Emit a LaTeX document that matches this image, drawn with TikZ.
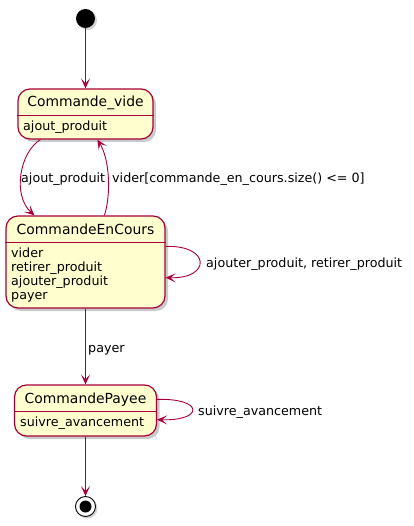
\documentclass[tikz,border=0pt]{standalone}
\usepackage{fontspec}
\setmainfont{DejaVu Sans}
\usetikzlibrary{arrows.meta,shadows}
\definecolor{umlred}{HTML}{A80036}
\definecolor{umlfill}{HTML}{FEFECE}
\tikzset{
  statebox/.style={draw=umlred, fill=umlfill, line width=1.2pt, rounded corners=12pt,
    inner sep=0pt, drop shadow={shadow xshift=3pt, shadow yshift=-3pt, opacity=0.35, fill=black!60}},
  divline/.style={draw=umlred, line width=1pt},
  arr/.style={draw=umlred, line width=0.9pt, -{Stealth[length=10pt,width=9pt,inset=5pt]}},
  ttl/.style={font=\fontsize{13.9}{16}\selectfont, anchor=base, inner sep=0pt},
  body/.style={font=\fontsize{12.7}{14}\selectfont, anchor=base west, inner sep=0pt},
  lbl/.style={font=\fontsize{12.7}{14}\selectfont, anchor=base west, inner sep=0pt},
}
\begin{document}
\begin{tikzpicture}[x=1pt,y=-1pt]
\useasboundingbox (0,0) rectangle (413,526);
% initial
\node[circle, fill=black, minimum size=19pt, inner sep=0pt, drop shadow={shadow xshift=2pt, shadow yshift=-2pt, opacity=0.35}] (init) at (85.5,18.5) {};
% Commande_vide
\node[statebox, minimum width=135pt, minimum height=50pt] (cv) at (85.5,114) {};
\draw[divline] (cv.west |- 0,116) coordinate (cvl) -- (cv.east |- 0,116) coordinate (cvr);
\node[ttl] (cvt) at (85.5,107) {Commande\_vide};
\node[body] (cvb) at (23,131) {ajout\_produit};
% CommandeEnCours
\node[statebox, minimum width=159pt, minimum height=92pt] (cec) at (85.5,262) {};
\draw[divline] (cec.west |- 0,242) coordinate (cecl) -- (cec.east |- 0,242) coordinate (cecr);
\node[ttl] (cect) at (85.5,234) {CommandeEnCours};
\node[body] (ceb1) at (11,257) {vider};
\node[body] (ceb2) at (11,271) {retirer\_produit};
\node[body] (ceb3) at (11,285) {ajouter\_produit};
\node[body] (ceb4) at (11,299) {payer};
% CommandePayee
\node[statebox, minimum width=142pt, minimum height=51pt] (cp) at (85.5,410.5) {};
\draw[divline] (cp.west |- 0,411) coordinate (cpl) -- (cp.east |- 0,411) coordinate (cpr);
\node[ttl] (cpt) at (85.5,403) {CommandePayee};
\node[body] (cpb) at (20,426) {suivre\_avancement};
% final
\node[circle, draw=black, fill=white, line width=0.9pt, minimum size=20pt, inner sep=0pt, drop shadow={shadow xshift=2pt, shadow yshift=-2pt, opacity=0.35}] (fin) at (85.5,506.5) {};
\node[circle, fill=black, minimum size=12pt, inner sep=0pt] (finin) at (fin.center) {};
% connectors
\draw[arr] (init) -- (cv);
\draw[arr] ([xshift=23pt]cv.south west) .. controls (20,152) and (12,195) .. ([xshift=29pt]cec.north west);
\node[lbl] (l1) at (21,183) {ajout\_produit};
\draw[arr] ([xshift=99pt]cec.north west) .. controls (111,195) and (110,160) .. ([xshift=80pt]cv.south west);
\node[lbl] (l2) at (112,183) {vider[commande\_en\_cours.size() <= 0]};
\draw[arr] ([yshift=-31pt]cec.north east) .. controls (211,245) and (211,279) .. ([yshift=31pt]cec.south east);
\node[lbl] (l3) at (206,267) {ajouter\_produit, retirer\_produit};
\draw[arr] (cec) -- (cp);
\node[lbl] (l4) at (88,352) {payer};
\draw[arr] ([yshift=-15pt]cp.north east) .. controls (204,398) and (204,421) .. ([yshift=17pt]cp.south east);
\node[lbl] (l5) at (198,415) {suivre\_avancement};
\draw[arr] (cp) -- (fin);
\end{tikzpicture}
\end{document}
